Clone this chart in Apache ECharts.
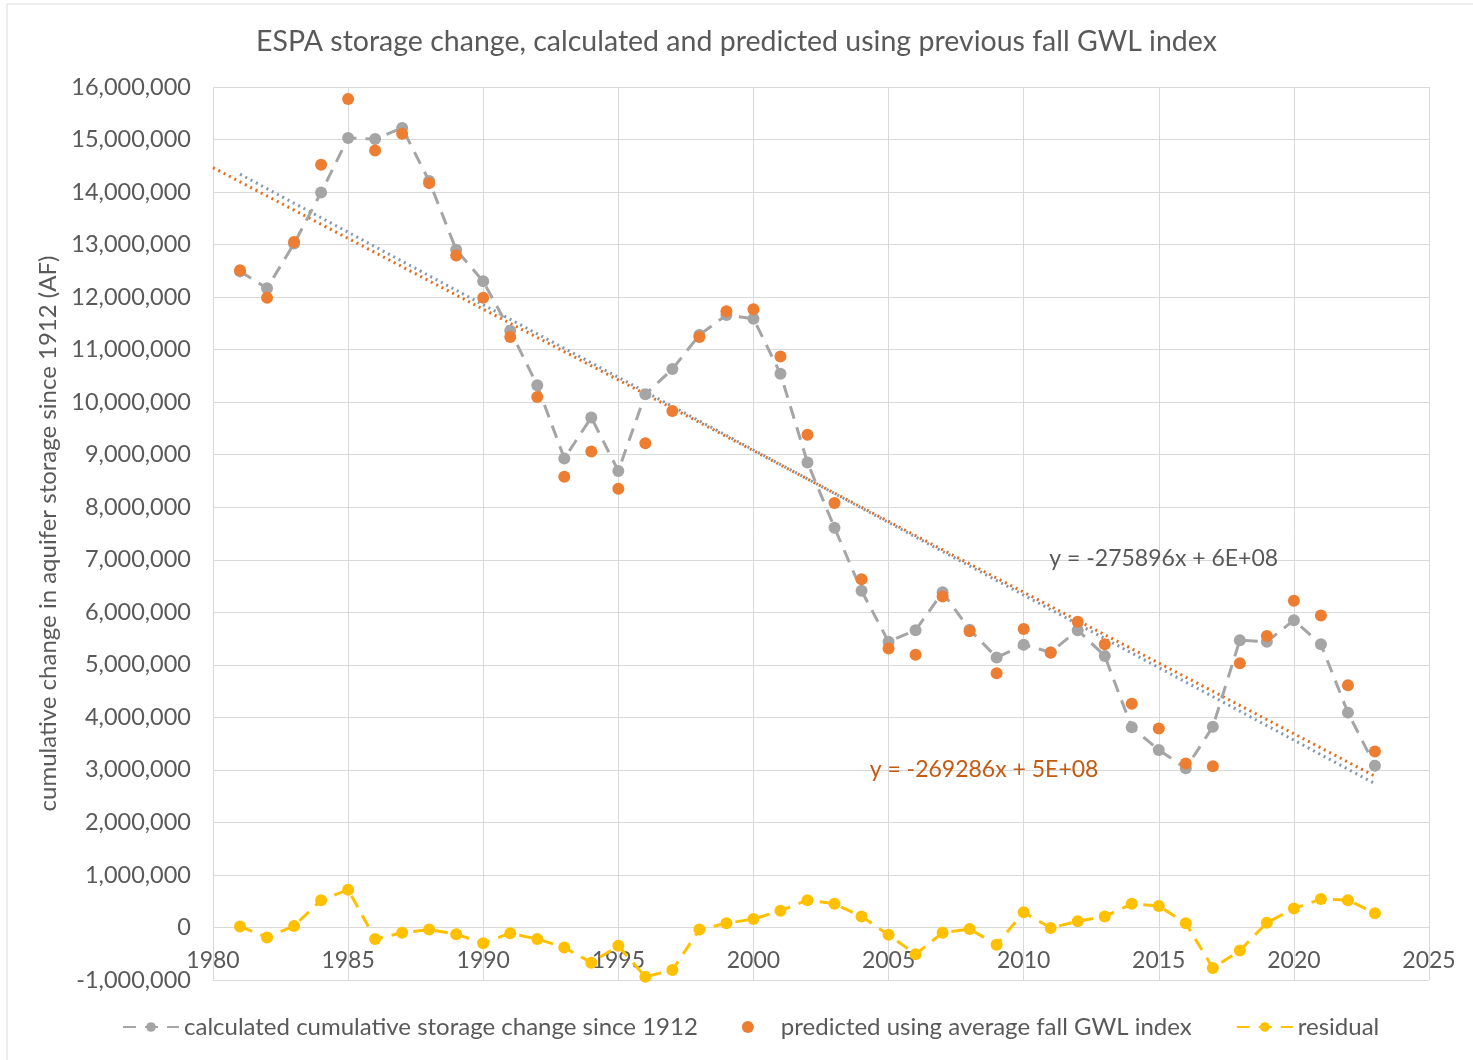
<!DOCTYPE html>
<html>
<head>
<meta charset="utf-8">
<title>ESPA storage change</title>
<script src="https://cdn.jsdelivr.net/npm/echarts@6/dist/echarts.min.js"></script>
<style>
  html, body { margin: 0; padding: 0; background: #fff; }
  #main { width: 1473px; height: 1060px; }
</style>
</head>
<body>
<div id="main"></div>
<script>
"use strict";
// values (acre-feet)
let years = [1981, 1982, 1983, 1984, 1985, 1986, 1987, 1988, 1989, 1990,
  1991, 1992, 1993, 1994, 1995, 1996, 1997, 1998, 1999, 2000,
  2001, 2002, 2003, 2004, 2005, 2006, 2007, 2008, 2009, 2010,
  2011, 2012, 2013, 2014, 2015, 2016, 2017, 2018, 2019, 2020,
  2021, 2022, 2023];
let calculated = [12490000, 12170000, 13020000, 13990000, 15030000, 15010000, 15220000, 14210000, 12900000, 12300000,
  11360000, 10320000, 8930000, 9710000, 8690000, 10150000, 10630000, 11280000, 11660000, 11590000,
  10540000, 8850000, 7610000, 6410000, 5440000, 5660000, 6380000, 5670000, 5140000, 5380000,
  5240000, 5660000, 5170000, 3810000, 3380000, 3030000, 3820000, 5470000, 5440000, 5850000,
  5390000, 4090000, 3080000];
let predicted = [12510000, 11990000, 13050000, 14520000, 15770000, 14790000, 15110000, 14170000, 12790000, 11990000,
  11240000, 10100000, 8580000, 9060000, 8350000, 9220000, 9830000, 11240000, 11730000, 11770000,
  10870000, 9380000, 8080000, 6630000, 5310000, 5190000, 6300000, 5640000, 4840000, 5680000,
  5230000, 5820000, 5390000, 4260000, 3790000, 3120000, 3070000, 5030000, 5550000, 6220000,
  5940000, 4610000, 3350000];
let residual = [20000, -190000, 30000, 520000, 720000, -220000, -100000, -40000, -130000, -300000,
  -110000, -220000, -380000, -670000, -350000, -940000, -810000, -40000, 80000, 160000,
  320000, 520000, 450000, 210000, -140000, -510000, -100000, -30000, -330000, 290000,
  -10000, 120000, 210000, 450000, 410000, 80000, -770000, -440000, 90000, 360000,
  540000, 520000, 270000];
let yTicks = { min: -1000000, max: 16000000, step: 1000000 };
let xTicks = { min: 1980, max: 2025, step: 5 };
let eqCalculated = 'y = -275896x + 6E+08';
let eqPredicted = 'y = -269286x + 5E+08';

let textColor = '#595959';
let fontFamily = 'Lato, "Noto Sans", sans-serif';

// least squares line, like the Excel trendline
function linearFit(xs, ys) {
    let n = xs.length, sx = 0, sy = 0, sxx = 0, sxy = 0;
    for (let i = 0; i < n; i++) {
        sx += xs[i]; sy += ys[i];
        sxx += xs[i] * xs[i]; sxy += xs[i] * ys[i];
    }
    let slope = (n * sxy - sx * sy) / (n * sxx - sx * sx);
    let icpt = (sy - slope * sx) / n;
    return function (x) { return slope * x + icpt; };
}

function pairs(xs, ys) {
    let out = [];
    for (let i = 0; i < xs.length; i++) out.push([xs[i], ys[i]]);
    return out;
}

let fitCalc = linearFit(years, calculated);
let fitPred = linearFit(years, predicted);
let firstYear = years[0], lastYear = years[years.length - 1];
let trendCalc = [[firstYear, fitCalc(firstYear)], [lastYear, fitCalc(lastYear)]];
// excel draws this one back one period
let trendPred = [[firstYear - 1, fitPred(firstYear - 1)], [lastYear, fitPred(lastYear)]];

let myChart = echarts.init(document.getElementById('main'));

let option = {
    backgroundColor: '#fff',
    animation: false,
    textStyle: { fontFamily: fontFamily },
    title: {
        text: 'ESPA storage change, calculated and predicted using previous fall GWL index',
        left: 'center',
        top: 22,
        textStyle: { fontFamily: fontFamily, fontSize: 28.5, fontWeight: 'normal', color: textColor }
    },
    grid: { left: 213, right: 44, top: 87, bottom: 80 },
    legend: {
        data: ['calculated cumulative storage change since 1912', 'predicted using average fall GWL index', 'residual'],
        bottom: 16,
        left: 117,
        itemGap: 44,
        itemWidth: 56,
        itemHeight: 12,
        textStyle: { fontFamily: fontFamily, fontSize: 24, color: textColor }
    },
    xAxis: {
        type: 'value',
        min: xTicks.min,
        max: xTicks.max,
        interval: xTicks.step,
        axisLine: { show: false, onZero: false },
        axisTick: { show: false },
        splitLine: { show: true, lineStyle: { color: '#D9D9D9', width: 1 } },
        axisLabel: {
            // excel puts these just under the zero line
            color: textColor, fontSize: 23, fontFamily: fontFamily, margin: -31,
            formatter: function (v) { return String(v); }
        }
    },
    yAxis: {
        type: 'value',
        min: yTicks.min,
        max: yTicks.max,
        interval: yTicks.step,
        name: 'cumulative change in aquifer storage since 1912 (AF)',
        nameLocation: 'middle',
        nameGap: 149,
        nameTextStyle: { color: textColor, fontSize: 24, fontFamily: fontFamily },
        axisLine: { show: false },
        axisTick: { show: false },
        splitLine: { show: true, lineStyle: { color: '#D9D9D9', width: 1 } },
        axisLabel: {
            color: textColor, fontSize: 23.5, fontFamily: fontFamily, margin: 22,
            formatter: function (v) { return v.toLocaleString('en-US'); }
        }
    },
    series: [
        {
            name: 'trend calculated',
            type: 'line',
            data: trendCalc,
            symbol: 'none',
            silent: true,
            lineStyle: { color: '#8497B0', width: 3, type: [2, 4] },
            z: 1
        },
        {
            name: 'trend predicted',
            type: 'line',
            data: trendPred,
            symbol: 'none',
            silent: true,
            lineStyle: { color: '#E46C1A', width: 3, type: [2, 4] },
            z: 1
        },
        {
            name: 'calculated cumulative storage change since 1912',
            type: 'line',
            data: pairs(years, calculated),
            symbol: 'circle',
            symbolSize: 12,
            itemStyle: { color: '#A5A5A5' },
            lineStyle: { color: '#A5A5A5', width: 3, type: [13, 9] },
            z: 3
        },
        {
            name: 'predicted using average fall GWL index',
            type: 'scatter',
            data: pairs(years, predicted),
            symbol: 'circle',
            symbolSize: 12,
            itemStyle: { color: '#ED7D31', opacity: 1 },
            z: 4
        },
        {
            name: 'residual',
            type: 'line',
            data: pairs(years, residual),
            symbol: 'circle',
            symbolSize: 12,
            itemStyle: { color: '#FFC000' },
            lineStyle: { color: '#FFC000', width: 3, type: [13, 9] },
            z: 3
        }
    ]
};
myChart.setOption(option);

// outer frame + trendline equations placed in data space
let eqCalcPos = myChart.convertToPixel({ gridIndex: 0 }, [2010.95, 7020000]);
let eqPredPos = myChart.convertToPixel({ gridIndex: 0 }, [2004.3, 3000000]);
myChart.setOption({
    graphic: [
        {
            type: 'rect',
            shape: { x: 7, y: 4, width: 1500, height: 1100 },
            style: { fill: 'none', stroke: '#D9D9D9', lineWidth: 1 },
            silent: true, z: -10
        },
        {
            type: 'text',
            x: eqCalcPos[0], y: eqCalcPos[1],
            style: { text: eqCalculated, fill: textColor, font: '23px ' + fontFamily, textVerticalAlign: 'middle' },
            z: 10
        },
        {
            type: 'text',
            x: eqPredPos[0], y: eqPredPos[1],
            style: { text: eqPredicted, fill: '#C55A11', font: '23px ' + fontFamily, textVerticalAlign: 'middle' },
            z: 10
        }
    ]
});
</script>
</body>
</html>
